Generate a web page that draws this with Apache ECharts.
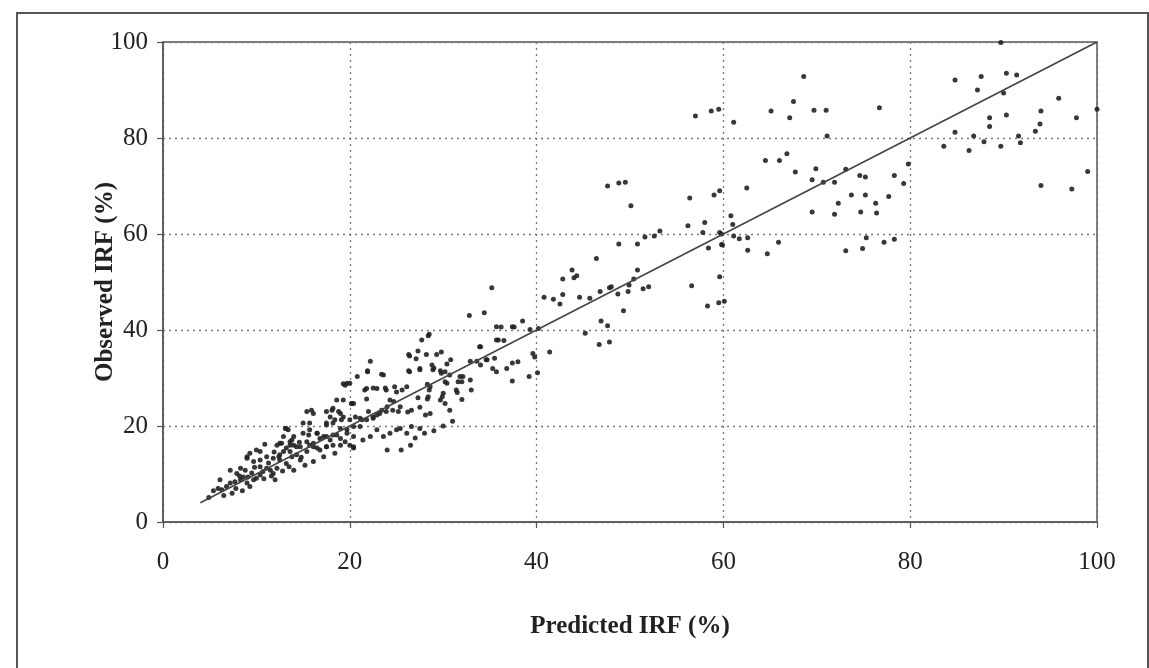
<!DOCTYPE html>
<html>
<head>
<meta charset="utf-8">
<script src="https://cdn.jsdelivr.net/npm/echarts@6/dist/echarts.min.js"></script>
<style>
  html, body { margin: 0; padding: 0; background: #ffffff; }
  #chart { width: 1149px; height: 668px; }
</style>
</head>
<body>
<div id="chart"></div>
<script>
// Predicted vs observed IRF (%), [predicted, observed]
const lowRange = [
  [4.9,5.1],[5.4,6.5],[5.9,7.0],[6.3,6.7],[6.8,7.4],[7.4,6.0],[6.1,8.8],[7.2,8.1],[7.7,8.4],[8.3,8.8],
  [9.0,8.1],[9.3,7.4],[8.6,9.4],[7.9,10.1],[7.2,10.8],[8.3,11.2],[8.8,10.8],[9.1,9.4],[9.7,8.8],[10.0,9.1],
  [10.4,9.8],[10.7,10.5],[11.1,11.2],[11.5,10.8],[12.2,11.2],[11.8,10.1],[12.0,8.8],[10.4,11.5],[9.0,13.3],[9.7,12.6],
  [10.4,12.9],[11.1,13.6],[11.8,13.3],[12.5,12.9],[13.2,12.2],[12.5,14.0],[12.9,14.7],[13.2,15.4],[13.6,14.7],[13.8,13.6],
  [14.3,14.0],[14.7,12.9],[14.0,10.8],[14.0,16.0],[14.3,15.7],[13.6,16.7],[12.2,16.0],[12.7,16.4],[10.4,14.7],[10.0,15.0],
  [9.3,14.3],[9.0,13.6],[13.4,19.2],[13.1,19.5],[15.4,16.7],[15.7,16.0],[16.1,16.4],[16.5,15.4],[16.8,15.0],[16.1,12.6],
  [17.5,15.7],[18.2,16.0],[18.4,14.3],[17.2,13.6],[15.4,14.7],[15.6,18.1],[16.5,18.5],[16.8,17.4],[17.5,17.8],[18.2,18.1],
  [19.0,17.4],[19.5,16.7],[20.0,16.0],[20.4,15.7],[19.0,19.5],[19.7,19.2],[20.4,19.9],[17.5,20.2],[18.2,20.6],[19.1,21.3],
  [17.5,23.0],[18.2,23.7],[19.0,22.6],[17.9,21.9],[19.3,25.4],[20.2,24.7],[19.5,28.5],[20.0,28.9],[16.1,22.6],[15.4,23.0],
  [15.7,20.6],[15.0,20.6],[13.8,17.1],[6.5,5.5],[7.8,7.0],[8.5,6.5],[9.5,10.2],[10.8,9.0],[11.3,12.3],[12.8,10.6],
  [13.5,11.5],[14.8,13.5],[15.2,11.8],[11.9,14.6],[10.9,16.2],[8.2,9.6],[9.8,11.4],[11.6,9.6],[12.4,13.6],[14.6,16.6],
  [13.2,19.5],[12.9,17.8],[14.0,17.8],[15.0,18.5],[15.7,19.2],[16.5,18.5],[17.2,17.8],[17.9,17.1],[18.6,18.1],[19.7,18.5],
  [20.4,17.8],[21.4,17.1],[22.2,17.8],[22.9,19.2],[23.6,17.8],[24.3,18.5],[25.0,19.2],[12.5,16.4],[13.6,16.0],[14.7,15.7],
  [16.1,15.7],[17.5,15.7],[19.0,16.0],[20.4,15.4]
];

const midRange = [
  [21.9,31.3],[20.8,30.3],[19.7,28.9],[19.3,28.8],[23.4,30.8],[18.6,25.4],[21.8,27.8],[22.9,27.8],[23.9,27.5],[25.0,27.1],
  [21.8,25.6],[20.2,24.7],[15.9,23.3],[18.1,23.3],[18.8,23.0],[17.5,20.6],[18.4,21.3],[19.3,21.9],[20.0,21.3],[21.1,21.6],
  [21.8,21.3],[22.5,21.9],[23.2,22.6],[23.9,23.0],[24.6,23.3],[32.8,43.0],[34.4,43.6],[35.7,40.7],[36.2,40.6],[37.4,40.7],
  [38.5,41.9],[40.2,40.3],[28.5,39.1],[27.7,37.9],[35.9,37.9],[36.5,37.8],[34.0,36.5],[26.3,34.9],[27.3,35.6],[28.2,34.9],
  [29.3,34.9],[29.8,35.4],[27.1,34.0],[22.2,33.5],[21.9,31.5],[26.3,31.5],[27.5,31.7],[29.0,32.1],[30.4,32.9],[30.8,33.8],
  [29.7,31.5],[30.2,31.3],[32.9,33.5],[33.6,33.5],[34.7,33.8],[35.5,34.1],[32.1,30.3],[31.6,29.2],[31.4,27.5],[32.9,29.6],
  [35.3,32.0],[35.7,31.3],[36.8,32.0],[37.4,33.1],[38.0,33.4],[37.4,29.4],[39.2,30.3],[39.6,35.1],[39.8,34.4],[40.1,31.1],
  [28.3,28.7],[28.5,27.5],[30.2,29.2],[30.4,28.9],[29.9,26.1],[29.7,25.4],[30.2,24.7],[30.7,23.3],[28.3,25.6],[27.3,25.9],
  [27.5,23.9],[26.6,23.3],[26.2,22.9],[28.6,22.6],[28.1,22.3],[25.2,23.0],[25.4,24.0],[26.6,19.9],[25.4,19.5],[26.1,18.5],
  [25.6,27.5],[23.8,27.9],[22.5,27.9],[21.6,27.5],[24.3,25.4],[24.7,25.1],[24.0,24.0],[23.4,23.3],[22.9,22.3],[22.5,21.6],
  [22.0,23.0],[20.4,24.7],[20.6,21.9],[21.3,21.3],[21.1,19.9],[35.2,48.8],[37.6,40.6],[28.4,38.8],[26.4,34.6],[33.9,36.5],
  [35.7,37.9],[34.0,32.7],[34.6,33.8],[27.5,32.0],[26.4,31.3],[28.8,32.7],[28.9,31.7],[29.8,31.0],[30.7,30.6],[31.8,30.3],
  [32.0,29.2],[30.0,26.8],[28.6,28.2],[28.4,26.1],[26.1,28.2],[24.8,28.2],[23.6,30.6],[26.5,16.0],[27.0,17.5],[28.0,18.5],
  [25.5,15.0],[24.0,15.0],[29.0,19.0],[30.0,20.0],[31.0,21.0],[27.5,19.5],[31.5,27.0],[32.0,25.5],[33.0,27.5],[41.4,35.4]
];

const upperRange = [
  [47.6,70.0],[48.8,70.6],[49.5,70.8],[50.1,65.9],[59.6,60.3],[59.8,57.8],[48.8,57.9],[50.8,57.9],[51.6,59.4],[52.6,59.6],
  [53.2,60.6],[46.4,54.9],[43.8,52.5],[42.8,50.6],[44.0,50.9],[44.3,51.3],[50.8,52.5],[50.4,50.6],[47.8,48.8],[48.0,49.0],
  [49.9,49.4],[49.8,48.0],[48.7,47.5],[51.4,48.6],[52.0,49.0],[46.8,48.0],[45.7,46.6],[44.6,46.8],[42.8,47.4],[40.8,46.8],
  [41.8,46.4],[42.5,45.4],[49.3,44.0],[46.9,41.9],[47.6,40.9],[45.2,39.3],[46.7,37.0],[47.8,37.5],[56.6,49.2],[58.3,45.0],
  [59.5,45.7],[60.1,46.0],[59.6,51.1],[39.3,40.1],
  [68.6,92.8],[57.0,84.6],[58.7,85.6],[59.5,86.0],[61.1,83.3],[65.1,85.6],[67.5,87.6],[67.1,84.2],[69.7,85.8],[71.0,85.8],
  [71.1,80.4],[76.7,86.3],[64.5,75.3],[66.0,75.3],[66.8,76.7],[67.7,72.9],[69.9,73.6],[69.5,71.3],[70.7,70.8],[71.9,70.8],
  [73.1,73.5],[74.6,72.2],[75.2,71.9],[78.3,72.2],[79.3,70.5],[79.8,74.6],[62.5,69.6],[59.6,69.0],[59.0,68.1],[56.4,67.5],
  [73.7,68.1],[75.2,68.1],[77.7,67.8],[72.3,66.4],[76.3,66.4],[69.5,64.6],[71.9,64.1],[74.7,64.6],[76.4,64.4],[60.8,63.8],
  [61.0,62.0],[56.2,61.7],[58.0,62.4],[57.8,60.3],[59.8,60.0],[61.1,59.6],[61.7,59.0],[62.6,59.2],[65.9,58.3],[62.6,56.6],
  [64.7,55.9],[58.4,57.1],[59.9,57.7],[73.1,56.5],[74.9,57.0],[75.3,59.2],[77.2,58.3],[78.3,58.9],
  [89.7,99.9],[84.8,92.1],[87.6,92.8],[87.2,90.0],[90.3,93.5],[91.4,93.1],[90.0,89.4],[95.9,88.3],[94.0,85.6],[90.3,84.8],
  [88.5,84.2],[88.5,82.4],[97.8,84.2],[100,86.0],[84.8,81.2],[86.8,80.4],[87.9,79.2],[83.6,78.3],[86.3,77.4],[89.7,78.3],
  [91.6,80.4],[91.8,79.0],[93.4,81.4],[93.9,82.9],[94.0,70.1],[97.3,69.4],[99.0,73.0]
];

const observedPoints = lowRange.concat(midRange, upperRange);

// Line of perfect agreement
const agreementLine = [[4, 4], [100, 100]];

const axisTicks = [0, 20, 40, 60, 80, 100];

const serif = '"Liberation Serif", "DejaVu Serif", serif';

const chart = echarts.init(document.getElementById('chart'), null, { renderer: 'canvas' });

const axisCommon = {
  type: 'value',
  min: axisTicks[0],
  max: axisTicks[axisTicks.length - 1],
  interval: axisTicks[1] - axisTicks[0],
  nameLocation: 'middle',
  nameMoveOverlap: false,
  nameTextStyle: { fontFamily: serif, fontWeight: 'bold', fontSize: 25, color: '#222' },
  axisLine: { show: true, lineStyle: { color: '#555', width: 1.5 } },
  axisTick: { show: true, length: 6, inside: false, lineStyle: { color: '#555', width: 1.2 } },
  splitLine: { show: true, lineStyle: { color: '#777', width: 1.3, type: [2, 4] } },
  axisLabel: { fontFamily: serif, fontSize: 25, color: '#222' }
};

chart.setOption({
  backgroundColor: '#ffffff',
  animation: false,
  graphic: [{
    type: 'rect',
    shape: { x: 17, y: 13, width: 1131, height: 720 },
    style: { fill: 'none', stroke: '#555', lineWidth: 2 },
    silent: true,
    z: -1
  }],
  grid: {
    left: 163, right: 52, top: 42, bottom: 146,
    show: true, borderColor: '#555', borderWidth: 1.5, backgroundColor: 'transparent'
  },
  xAxis: Object.assign({}, axisCommon, {
    name: 'Predicted IRF (%)',
    nameGap: 92,
    axisLabel: Object.assign({}, axisCommon.axisLabel, { margin: 28 })
  }),
  yAxis: Object.assign({}, axisCommon, {
    name: 'Observed IRF (%)',
    nameGap: 45,
    axisLabel: Object.assign({}, axisCommon.axisLabel, { margin: 15 })
  }),
  series: [
    {
      type: 'scatter',
      data: observedPoints,
      symbol: 'circle',
      symbolSize: 5,
      itemStyle: { color: '#222', opacity: 0.9 },
      z: 2
    },
    {
      type: 'line',
      data: agreementLine,
      symbol: 'none',
      lineStyle: { color: '#444', width: 1.6 },
      z: 3
    }
  ]
});
</script>
</body>
</html>
